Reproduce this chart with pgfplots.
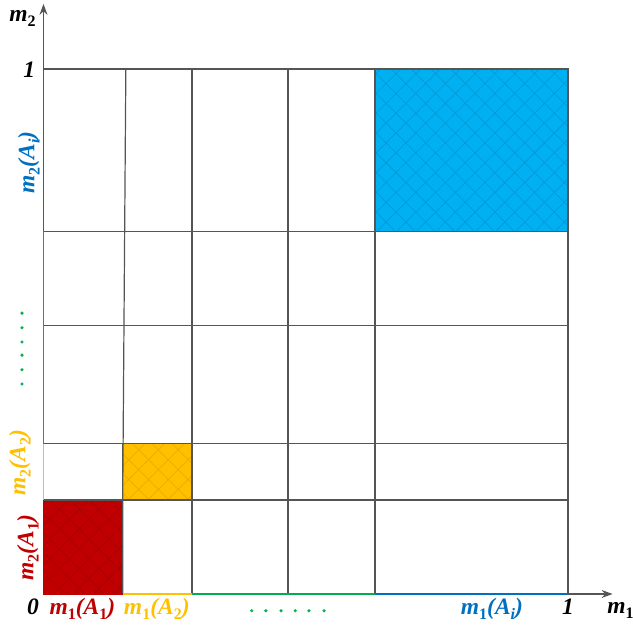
\documentclass[border=0pt]{standalone}
\usepackage{pgfplots}
\pgfplotsset{compat=1.18}
\usetikzlibrary{patterns.meta,arrows.meta}
\usepackage{fontspec}
\setmainfont{Liberation Serif}

\definecolor{gridc}{RGB}{85,85,85}
\definecolor{redF}{RGB}{192,0,0}
\definecolor{redP}{RGB}{165,0,0}
\definecolor{orgF}{RGB}{255,192,0}
\definecolor{orgP}{RGB}{228,170,0}
\definecolor{bluF}{RGB}{0,176,240}
\definecolor{bluP}{RGB}{0,150,215}
\definecolor{bluL}{RGB}{0,112,192}
\definecolor{grnL}{RGB}{0,176,80}

\newcommand\sub[1]{\raisebox{-0.22em}{\fontsize{16}{16}\selectfont #1}}
\newcommand\lab{\bfseries\itshape\fontsize{23.5}{23.5}\selectfont}

\begin{document}
\begin{tikzpicture}
\useasboundingbox (-43.5pt,-34pt) rectangle (589.5pt,594pt);
\begin{axis}[
  width=524.5pt, height=525pt, scale only axis,
  xmin=0, xmax=1, ymin=0, ymax=1,
  hide axis, clip=false,
  gl/.style={gridc, line width=1.2pt, mark=none, solid},
  seg/.style={#1, line width=1.8pt, mark=none, solid},
  hatch/.style={postaction={pattern={Hatch[angle=45,distance=14pt,line width=0.55pt]}, pattern color=#1}},
]
% filled focal elements
\addplot[fill=redF, draw=gridc, line width=1.2pt, mark=none, hatch=redP]
  coordinates {(0,0) (0.151,0) (0.151,0.179) (0,0.179)} -- cycle;
\addplot[fill=orgF, draw=gridc, line width=1.2pt, mark=none, hatch=orgP]
  coordinates {(0.151,0.179) (0.283,0.179) (0.283,0.286) (0.151,0.286)} -- cycle;
\addplot[fill=bluF, draw=gridc, line width=1.2pt, mark=none, hatch=bluP]
  coordinates {(0.632,0.691) (1,0.691) (1,1) (0.632,1)} -- cycle;

% grid of the partition
\addplot[gl] coordinates {(0,0.179) (1,0.179)};
\addplot[gl] coordinates {(0,0.286) (1,0.286)};
\addplot[gl] coordinates {(0,0.512) (1,0.512)};
\addplot[gl] coordinates {(0,0.691) (1,0.691)};
\addplot[gl] coordinates {(0,1) (1,1)};
\addplot[gl] coordinates {(0.151,0) (0.151,0.179) (0.157,1)};
\addplot[gl] coordinates {(0.283,0) (0.283,1)};
\addplot[gl] coordinates {(0.466,0) (0.466,1)};
\addplot[gl] coordinates {(0.632,0) (0.632,1)};
\addplot[gl] coordinates {(1,0) (1,1)};

% axes
\draw[gridc, line width=1.2pt, -{Stealth[length=11pt,width=8pt]}] (axis cs:0,0) -- (axis cs:1.085,0);
\draw[gridc, line width=1.2pt, -{Stealth[length=11pt,width=8pt]}] (axis cs:0,0) -- (axis cs:0,1.124);

% coloured mass intervals on the axes
\addplot[seg=redF] coordinates {(0,0) (0.151,0)};
\addplot[seg=orgF] coordinates {(0.151,0) (0.283,0)};
\addplot[seg=grnL] coordinates {(0.283,0) (0.632,0)};
\addplot[seg=bluL] coordinates {(0.632,0) (1,0)};
\addplot[seg=redF] coordinates {(0,0) (0,0.179)};
\addplot[seg=orgF] coordinates {(0,0.179) (0,0.286)};
\addplot[seg=grnL] coordinates {(0,0.286) (0,0.691)};
\addplot[seg=bluL] coordinates {(0,0.691) (0,1)};

% ellipsis dots
\addplot[only marks, mark=*, mark size=1.4pt, grnL, draw=none] coordinates {
  (0.397,-0.032) (0.424,-0.032) (0.453,-0.032) (0.480,-0.032) (0.506,-0.032) (0.535,-0.032)};
\addplot[only marks, mark=*, mark size=1.4pt, grnL, draw=none] coordinates {
  (-0.041,0.535) (-0.041,0.507) (-0.041,0.480) (-0.041,0.455) (-0.041,0.427) (-0.041,0.400)};

% labels
\node[font=\lab] at (axis cs:-0.020,-0.024) {0};
\node[font=\lab] at (axis cs:1.000,-0.025) {1};
\node[font=\lab] at (axis cs:-0.027,0.998) {1};
\node[font=\lab] at (axis cs:1.100,-0.032) {m\sub{\upshape 1}};
\node[font=\lab] at (axis cs:-0.040,1.096) {m\sub{\upshape 2}};
\node[font=\lab, text=redF] at (axis cs:0.074,-0.029) {m\sub{\upshape 1}(A\sub{\upshape 1})};
\node[font=\lab, text=orgF] at (axis cs:0.216,-0.029) {m\sub{\upshape 1}(A\sub{\upshape 2})};
\node[font=\lab, text=bluL] at (axis cs:0.855,-0.029) {m\sub{\upshape 1}(A\sub{i})};
\node[font=\lab, text=redF, rotate=90] at (axis cs:-0.030,0.088) {m\sub{\upshape 2}(A\sub{\upshape 1})};
\node[font=\lab, text=orgF, rotate=90] at (axis cs:-0.045,0.250) {m\sub{\upshape 2}(A\sub{\upshape 2})};
\node[font=\lab, text=bluL, rotate=90] at (axis cs:-0.028,0.822) {m\sub{\upshape 2}(A\sub{i})};
\end{axis}
\end{tikzpicture}
\end{document}
